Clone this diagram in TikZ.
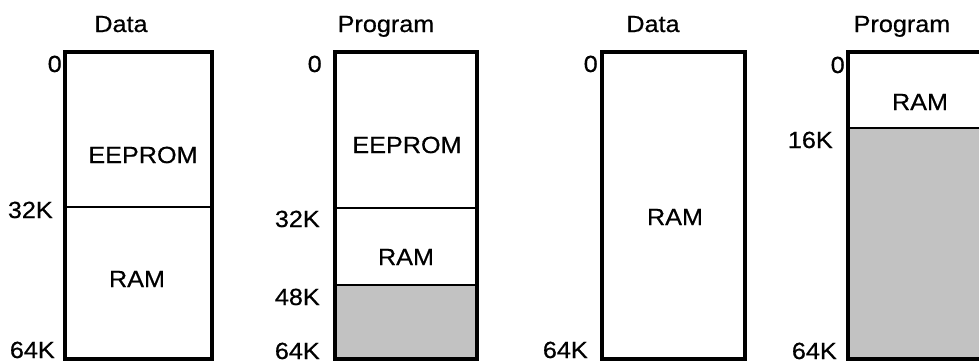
\documentclass[tikz,border=0pt]{standalone}
\usepackage{fontspec}
\setmainfont[FakeStretch=1.08,FakeBold=0.6]{Liberation Sans}
\begin{document}
\begin{tikzpicture}[x=0.75pt,y=-0.75pt,
  lbl/.style={font=\fontsize{17.5}{19}\selectfont, inner sep=0pt},
  addr/.style={lbl, anchor=base east},
  title/.style={lbl, anchor=base},
  region/.style={lbl, anchor=base},
  frame/.style={draw=black, line width=2.3pt},
  divider/.style={draw=black, line width=1.9pt},
  unused/.style={fill=black!24}]
\clip (0,0) rectangle (979,362);
% ---- box 1: Data
\draw[divider] (65,207) -- (212,207);
\draw[frame] (65,52) rectangle (212,359);
\node[title] (t1) at (121,32) {Data};
\node[region] (e1) at (143,163) {EEPROM};
\node[region] (r1) at (137,287) {RAM};
\node[addr] (a10) at (62,72) {0};
\node[addr] (a11) at (53,218) {32K};
\node[addr] (a12) at (55,358) {64K};
% ---- box 2: Program
\fill[unused] (335,285) rectangle (477,359);
\draw[divider] (335,208) -- (477,208);
\draw[divider] (335,285) -- (477,285);
\draw[frame] (335,52) rectangle (477,359);
\node[title] (t2) at (386,32) {Program};
\node[region] (e2) at (407,153) {EEPROM};
\node[region] (r2) at (406,265) {RAM};
\node[addr] (a20) at (322,72) {0};
\node[addr] (a21) at (320,227) {32K};
\node[addr] (a22) at (320,305) {48K};
\node[addr] (a23) at (320,359) {64K};
% ---- box 3: Data
\draw[frame] (602,52) rectangle (745,359);
\node[title] (t3) at (653,32) {Data};
\node[region] (r3) at (675,225) {RAM};
\node[addr] (a30) at (598,72) {0};
\node[addr] (a31) at (588,358) {64K};
% ---- box 4: Program
\fill[unused] (848,128) rectangle (1000,359);
\draw[divider] (848,128) -- (1000,128);
\draw[frame] (848,52) rectangle (1000,359);
\node[title] (t4) at (902,32) {Program};
\node[region] (r4) at (920,110) {RAM};
\node[addr] (a40) at (845,73) {0};
\node[addr] (a41) at (833,148) {16K};
\node[addr] (a42) at (837,359) {64K};
\end{tikzpicture}
\end{document}
